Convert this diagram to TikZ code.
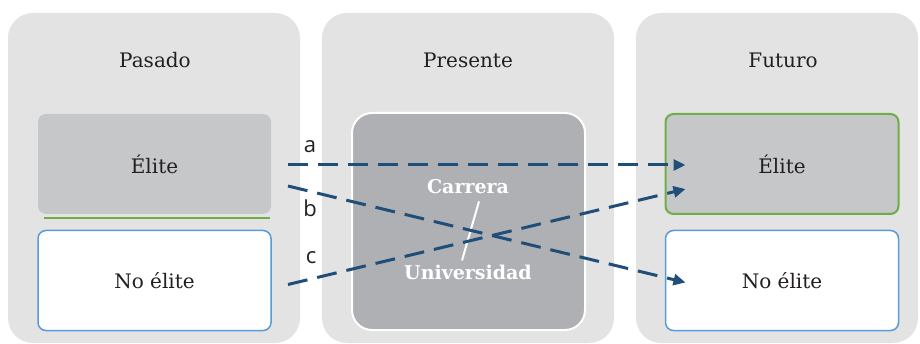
\documentclass[tikz,border=0pt]{standalone}
\usepackage{fontspec}
\setmainfont{DejaVu Serif}
\newfontfamily\letterfont{Open Sans}
\usetikzlibrary{arrows.meta,calc}
\definecolor{panelgray}{HTML}{E3E3E3}
\definecolor{elitegray}{HTML}{C6C7C9}
\definecolor{midgray}{HTML}{AFB0B3}
\definecolor{elitegreen}{HTML}{70AD47}
\definecolor{lineblue}{HTML}{5B9BD5}
\definecolor{arrowblue}{HTML}{1F4E79}
\definecolor{ink}{HTML}{231F20}

\begin{document}
\begin{tikzpicture}[x=1pt, y=-1pt,
  panel/.style = {fill=panelgray, rounded corners=25pt, minimum height=330pt, inner sep=0pt, outer sep=0pt},
  title/.style = {font=\fontsize{20}{23}\selectfont, text=ink},
  elitebox/.style = {fill=elitegray, rounded corners=8pt, minimum width=233pt, minimum height=100pt, font=\fontsize{20}{23}\selectfont, text=ink, outer sep=0pt},
  restbox/.style = {draw=lineblue, line width=1.5pt, fill=white, rounded corners=8pt, minimum width=233pt, minimum height=100pt, font=\fontsize{20}{23}\selectfont, text=ink, outer sep=0pt},
  path/.style = {draw=arrowblue, line width=3pt, dash pattern=on 20pt off 10pt, -{Triangle[length=12pt, width=11pt]}},
  letter/.style = {font=\letterfont\fontsize{22}{25}\selectfont, text=ink}]
\useasboundingbox (0,0) rectangle (920,344);

% columns
\node[panel, minimum width=292pt] (pas) at (154,178) {};
\node[panel, minimum width=292pt] (pre) at (468,178) {};
\node[panel, minimum width=282pt] (fut) at (777,178) {};
\node[title] (tpas) at (155,60) {Pasado};
\node[title] (tpre) at (468,60) {Presente};
\node[title] (tfut) at (783,60) {Futuro};

% pasado
\node[elitebox] (pe) at (154.5,164) {Élite};
\draw[elitegreen, line width=2pt] ($(pe.south west)+(6,4)$) -- ($(pe.south east)+(-1,4)$);
\node[restbox] (pn) at (154.5,280.5) {No élite};

% presente
\node[draw=white, line width=2pt, fill=midgray, rounded corners=20pt, minimum width=233pt, minimum height=217pt] (mid) at (468.5,221.5) {};
\node[text=white, font=\bfseries\fontsize{19}{22}\selectfont, inner sep=0pt] (carr) at (468,187) {Carrera};
\node[text=white, font=\bfseries\fontsize{19}{22}\selectfont, inner sep=0pt] (univ) at (468,272) {Universidad};
\draw[white, line width=2pt] ($(carr.south)+(11,7)$) -- ($(univ.north)+(-6,-4)$);

% futuro
\node[elitebox, draw=elitegreen, line width=2pt] (fe) at (782,164) {Élite};
\node[restbox] (fn) at (782,280.5) {No élite};

% paths
\draw[path] ($(pe.east)+(17,1)$) -- ($(fe.west)+(20,1)$);
\draw[path] ($(pe.east)+(17,22)$) -- ($(fn.west)+(20,2)$);
\draw[path] ($(pn.east)+(17,4)$) -- ($(fe.west)+(20,25)$);
\node[letter] (la) at (310,147) {a};
\node[letter] (lb) at (310,208) {b};
\node[letter] (lc) at (311,258) {c};
\end{tikzpicture}
\end{document}
